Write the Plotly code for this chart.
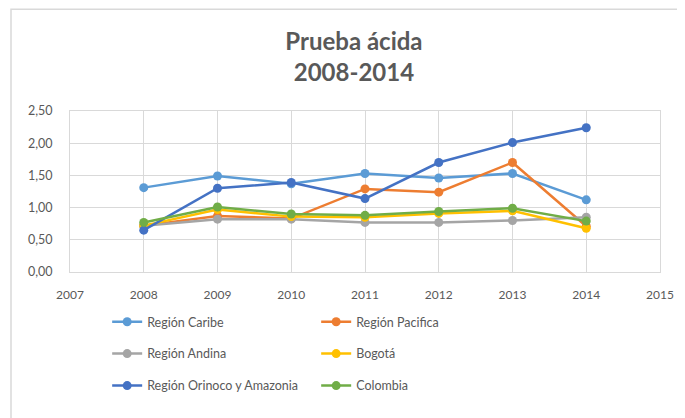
import plotly.graph_objects as go

years = [2008, 2009, 2010, 2011, 2012, 2013, 2014]
series_names = ["Región Caribe", "Región Pacifica", "Región Andina",
                "Bogotá", "Región Orinoco y Amazonia", "Colombia"]
caribe = [1.31, 1.49, 1.37, 1.53, 1.46, 1.53, 1.12]
pacifica = [0.72, 0.87, 0.83, 1.29, 1.24, 1.70, 0.71]
andina = [0.72, 0.82, 0.82, 0.77, 0.77, 0.80, 0.85]
bogota = [0.72, 0.97, 0.86, 0.85, 0.91, 0.95, 0.68]
orinoco = [0.65, 1.30, 1.39, 1.14, 1.70, 2.01, 2.24]
colombia = [0.77, 1.01, 0.90, 0.88, 0.94, 0.99, 0.79]
values = [caribe, pacifica, andina, bogota, orinoco, colombia]

colors = ["#5B9BD5", "#ED7D31", "#A5A5A5", "#FFC000", "#4472C4", "#70AD47"]
legends = ["legend", "legend", "legend2", "legend2", "legend3", "legend3"]

fig = go.Figure()
for name, vals, col, lg in zip(series_names, values, colors, legends):
    fig.add_trace(go.Scatter(
        x=years, y=vals, name=name, mode="lines+markers",
        line=dict(color=col, width=2.5),
        marker=dict(color=col, size=9),
        legend=lg))

txt = "#595959"
leg_common = dict(orientation="h", xanchor="left", yanchor="middle",
                  x=0.063, entrywidth=164, entrywidthmode="pixels",
                  font=dict(family="Lato", size=12.5, color=txt),
                  bgcolor="rgba(0,0,0,0)", itemclick=False)

# page body adds an 8px offset, so margins are shifted by that amount
fig.update_layout(
    width=685, height=418,
    margin=dict(l=62, r=33, t=103, b=154),
    paper_bgcolor="white", plot_bgcolor="white",
    separators=",.",
    font=dict(family="Lato", color=txt),
    title=dict(text="<b>Prueba ácida<br>2008-2014</b>",
               x=0.505, xref="container", xanchor="center",
               y=0.9, yref="container", yanchor="middle",
               font=dict(family="Lato", size=24, color=txt)),
    legend=dict(y=-0.311, **leg_common),
    legend2=dict(y=-0.509, **leg_common),
    legend3=dict(y=-0.708, **leg_common),
    xaxis=dict(range=[2007, 2015], dtick=1, tick0=2007,
               showgrid=True, gridcolor="#D9D9D9", gridwidth=1,
               showline=True, linecolor="#D9D9D9", mirror=True,
               ticks="outside", ticklen=12, tickcolor="rgba(0,0,0,0)",
               tickfont=dict(family="Lato", size=12, color=txt),
               zeroline=False, fixedrange=True),
    yaxis=dict(range=[0, 2.5], dtick=0.5, tickformat=".2f",
               showgrid=True, gridcolor="#D9D9D9", gridwidth=1,
               showline=True, linecolor="#D9D9D9", mirror=True,
               ticks="outside", ticklen=14, tickcolor="rgba(0,0,0,0)",
               tickfont=dict(family="Lato", size=12.5, color=txt),
               zeroline=False, fixedrange=True),
)

# thin frame around the chart area, as in the source image
fig.add_shape(type="rect", xref="paper", yref="paper",
              x0=-0.1, x1=1.1, y0=-0.96, y1=1.632,
              line=dict(color="#D9D9D9", width=1.5))

fig.write_html("out.html")
